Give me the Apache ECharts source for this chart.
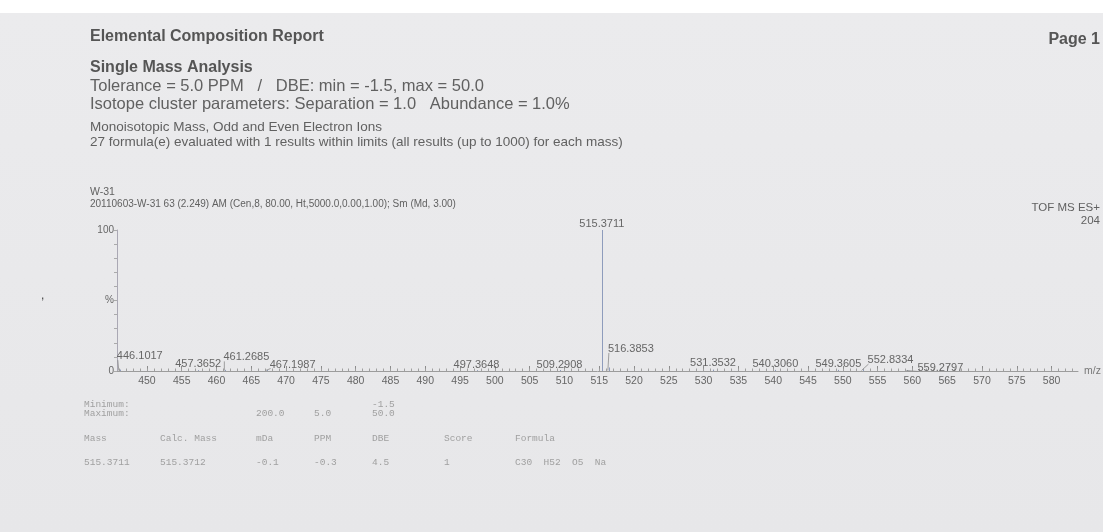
<!DOCTYPE html>
<html>
<head>
<meta charset="utf-8">
<title>Elemental Composition Report</title>
<script src="https://cdn.jsdelivr.net/npm/echarts@6/dist/echarts.min.js"></script>
<style>
  html, body { margin: 0; padding: 0; }
  body {
    width: 1103px; height: 532px; overflow: hidden;
    background: linear-gradient(#fff 0, #fff 13px, #ebebed 13px, #e7e7e9 100%);
  }
  #chart { width: 1103px; height: 532px; }
</style>
</head>
<body>
<div id="chart"></div>
<script>
// spectrum peaks: m/z and relative intensity (%)
const peakMz = [446.1017, 457.3652, 461.2685, 467.1987, 497.3648, 509.2908, 515.3711,
                516.3853, 531.3532, 540.3060, 549.3605, 552.8334, 559.2797];
const peakIntensity = [1.0, 0.6, 0.8, 0.7, 0.6, 0.7, 100,
                       2.5, 1.0, 0.8, 0.8, 1.0, 0.7];

// axes
const mzRange = [445.7, 583.8];
const xTickLabels = [450, 455, 460, 465, 470, 475, 480, 485, 490, 495, 500, 505, 510,
                     515, 520, 525, 530, 535, 540, 545, 550, 555, 560, 565, 570, 575, 580];
const yTickLabels = [0, 50, 100];
const yTicks = [0, 10, 20, 30, 40, 50, 60, 70, 80, 90, 100];

// result table
const minRow = ['Minimum:', '', '', '', '-1.5', '', ''];
const maxRow = ['Maximum:', '', '200.0', '5.0', '50.0', '', ''];
const headRow = ['Mass', 'Calc. Mass', 'mDa', 'PPM', 'DBE', 'Score', 'Formula'];
const resultRow = ['515.3711', '515.3712', '-0.1', '-0.3', '4.5', '1', 'C30  H52  O5  Na'];

// layout only: label shift (px) for crowded peak labels, table column x
const labelShift = [[20, -7], [0, 0], [21, -6], [26, 1], [0, 1], [0, 1], [0, 0],
                    [22, -12], [0, 0], [0, 1], [0, 1], [28, -3], [33, 4]];
const tableCols = [84, 160, 256, 314, 372, 444, 515];

const sans = '"Liberation Sans", Arial, sans-serif';
const mono = '"Liberation Mono", "DejaVu Sans Mono", monospace';

const minorTicks = [];
for (let v = Math.ceil(mzRange[0]); v <= mzRange[1]; v++) minorTicks.push(v);

function txt(x, y, s, size, opts) {
  opts = opts || {};
  return {
    type: 'text', x: x, y: y, silent: true,
    style: {
      text: s, fill: opts.color || '#616161',
      font: (opts.bold ? 'bold ' : '') + size + 'px ' + (opts.family || sans),
      align: opts.align || 'left', verticalAlign: 'middle'
    }
  };
}

const graphics = [
  txt(90, 37, 'Elemental Composition Report', 16, {bold: true, color: '#555'}),
  txt(1100, 40, 'Page 1', 16, {bold: true, color: '#555', align: 'right'}),
  txt(90, 68, 'Single Mass Analysis', 16, {bold: true, color: '#555'}),
  txt(90, 86, 'Tolerance = 5.0 PPM   /   DBE: min = -1.5, max = 50.0', 16.5),
  txt(90, 104, 'Isotope cluster parameters: Separation = 1.0   Abundance = 1.0%', 16.5),
  txt(90, 127, 'Monoisotopic Mass, Odd and Even Electron Ions', 13.5),
  txt(90, 142, '27 formula(e) evaluated with 1 results within limits (all results (up to 1000) for each mass)', 13.5),
  txt(90, 192, 'W-31', 10.5),
  txt(90, 204, '20110603-W-31 63 (2.249) AM (Cen,8, 80.00, Ht,5000.0,0.00,1.00); Sm (Md, 3.00)', 10),
  txt(1100, 208, 'TOF MS ES+', 11.5, {align: 'right'}),
  txt(1100, 221, '204', 11.5, {align: 'right'}),
  txt(41, 296, ',', 12, {color: '#444'})
];

[[minRow, 404], [maxRow, 413], [headRow, 438], [resultRow, 462]].forEach(function (r) {
  r[0].forEach(function (s, i) {
    if (s) graphics.push(txt(tableCols[i], r[1], s, 9.5, {family: mono, color: '#a0a0a0'}));
  });
});

const chart = echarts.init(document.getElementById('chart'), null, {renderer: 'canvas'});

chart.setOption({
  animation: false,
  backgroundColor: 'transparent',
  grid: {left: 117, top: 230, width: 961, height: 141},
  xAxis: [{
    type: 'value',
    min: mzRange[0],
    max: mzRange[1],
    position: 'bottom',
    axisLine: {lineStyle: {color: '#9c9c9c', width: 1}},
    axisTick: {show: true, inside: true, length: 5, customValues: xTickLabels,
               lineStyle: {color: '#8c8c8c'}},
    axisLabel: {customValues: xTickLabels, margin: 5, color: '#666',
                fontSize: 10.5, fontFamily: sans},
    splitLine: {show: false},
    name: 'm/z',
    nameLocation: 'end',
    nameGap: 6,
    nameTextStyle: {color: '#777', fontSize: 10.5, fontFamily: sans, verticalAlign: 'middle'}
  }, {
    type: 'value',
    min: mzRange[0],
    max: mzRange[1],
    position: 'bottom',
    offset: 0,
    axisLine: {show: false},
    axisTick: {show: true, inside: true, length: 2.5, customValues: minorTicks,
               lineStyle: {color: '#a0a0a0'}},
    axisLabel: {show: false},
    splitLine: {show: false}
  }],
  yAxis: {
    type: 'value',
    min: 0,
    max: 100,
    axisLine: {show: true, lineStyle: {color: '#aaa8b4'}},
    axisTick: {show: true, length: 3, customValues: yTicks, lineStyle: {color: '#aaa'}},
    axisLabel: {
      customValues: yTickLabels, margin: 3, color: '#666', fontSize: 10, fontFamily: sans,
      formatter: function (v) { return v === 50 ? '%' : String(v); }
    },
    splitLine: {show: false}
  },
  graphic: graphics,
  series: [{
    type: 'custom',
    xAxisIndex: 0,
    yAxisIndex: 0,
    data: peakMz.map(function (m, i) { return [m, peakIntensity[i]]; }),
    renderItem: function (params, api) {
      const i = params.dataIndex;
      const base = api.coord([api.value(0), 0]);
      const top = api.coord([api.value(0), api.value(1)]);
      const px = Math.round(top[0]) + 0.5;
      const sh = labelShift[i];
      const cx = top[0] + sh[0];
      const cy = top[1] - 6.5 + sh[1];
      const children = [{
        type: 'line',
        shape: {x1: px, y1: base[1], x2: px, y2: top[1]},
        style: {stroke: '#8e9cbc', lineWidth: 1}
      }, {
        type: 'text',
        style: {
          text: peakMz[i].toFixed(4), x: cx, y: cy,
          align: 'center', verticalAlign: 'middle',
          font: '11px ' + sans, fill: '#666'
        }
      }];
      if (sh[0] !== 0) {
        children.push({
          type: 'line',
          shape: {x1: top[0] - 1, y1: base[1] - 0.5, x2: cx - 22, y2: cy + 4},
          style: {stroke: '#8a8a8a', lineWidth: 0.8}
        });
      }
      return {type: 'group', children: children};
    }
  }]
});
</script>
</body>
</html>
